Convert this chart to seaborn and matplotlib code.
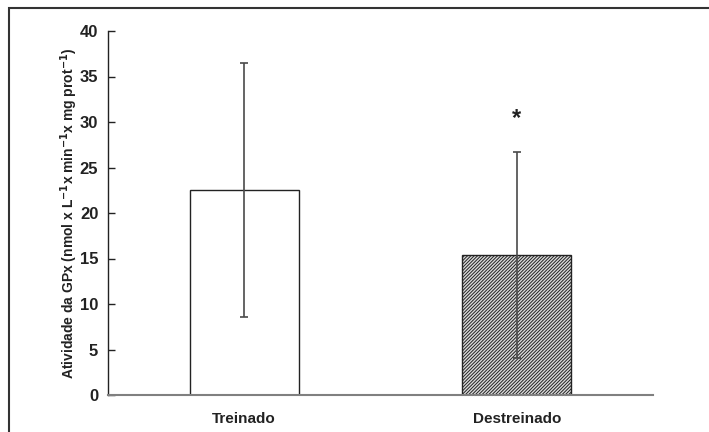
import matplotlib
matplotlib.use("Agg")
import matplotlib.pyplot as plt
import seaborn as sns
from matplotlib.patches import Rectangle

categories = ["Treinado", "Destreinado"]
means = [22.5, 15.4]
sds = [13.95, 11.3]
yticks = [0, 5, 10, 15, 20, 25, 30, 35, 40]
star_value = 30.4

sns.set_theme(style="white")
plt.rcParams['font.family'] = ['Liberation Sans', 'DejaVu Sans']
plt.rcParams['hatch.linewidth'] = 0.7
plt.rcParams['hatch.color'] = '#4a4a4a'

fig = plt.figure(figsize=(7.09, 4.32), dpi=100)
ax = fig.add_axes([108/709, 1-395/432, (653-108)/709, (395-31)/432])

sns.barplot(x=categories, y=means, ax=ax, errorbar=None, width=0.4,
            palette=["white", "#dadada"], hue=categories, legend=False,
            edgecolor="#222222", linewidth=1.0, zorder=2)
bars = ax.patches
bars[1].set_hatch("//////////")
bars[1].set_facecolor("#dadada")

ax.errorbar(range(len(categories)), means, yerr=sds, fmt="none",
            ecolor="#4a4a4a", elinewidth=1.2, capsize=3, capthick=1.2, zorder=10)

ax.text(1, star_value, "*", ha="center", va="center", fontsize=17, fontweight="bold", color="#222222")

ax.set_xlim(-0.5, 1.5)
ax.set_ylim(0, 40)
ax.set_yticks(yticks)
ax.set_yticklabels([str(t) for t in yticks], fontsize=12, fontweight="bold", color="#222222")
ax.set_xticks([0.5, 1.5], minor=False)
ax.set_xticklabels([])
ax.set_xticks([0, 1], minor=True)
ax.set_xticklabels(categories, minor=True, fontsize=11, fontweight="bold", color="#222222")
ax.tick_params(axis="x", which="major", direction="in", length=4, width=1, color="#222222")
ax.tick_params(axis="x", which="minor", length=0, pad=12)
ax.tick_params(axis="y", direction="in", length=5, width=1, color="#222222", pad=7, left=True)

ax.set_ylabel(r"Atividade da GPx (nmol x L$^{\mathbf{-1}}$x min$^{\mathbf{-1}}$x mg prot$^{\mathbf{-1}}$)",
              fontsize=10, fontweight="bold", color="#222222", labelpad=0)
ax.set_xlabel("")

for s in ["top", "right"]:
    ax.spines[s].set_visible(False)
ax.spines["left"].set_color("#222222")
ax.spines["left"].set_linewidth(1.0)
ax.spines["bottom"].set_color("#808080")
ax.spines["bottom"].set_linewidth(1.5)

fig.patches.append(Rectangle((9/709, -0.05), 1.05, 1-8/432+0.05, transform=fig.transFigure,
                             fill=False, edgecolor="#333333", linewidth=1.5))

fig.savefig("out.png", dpi=100)
